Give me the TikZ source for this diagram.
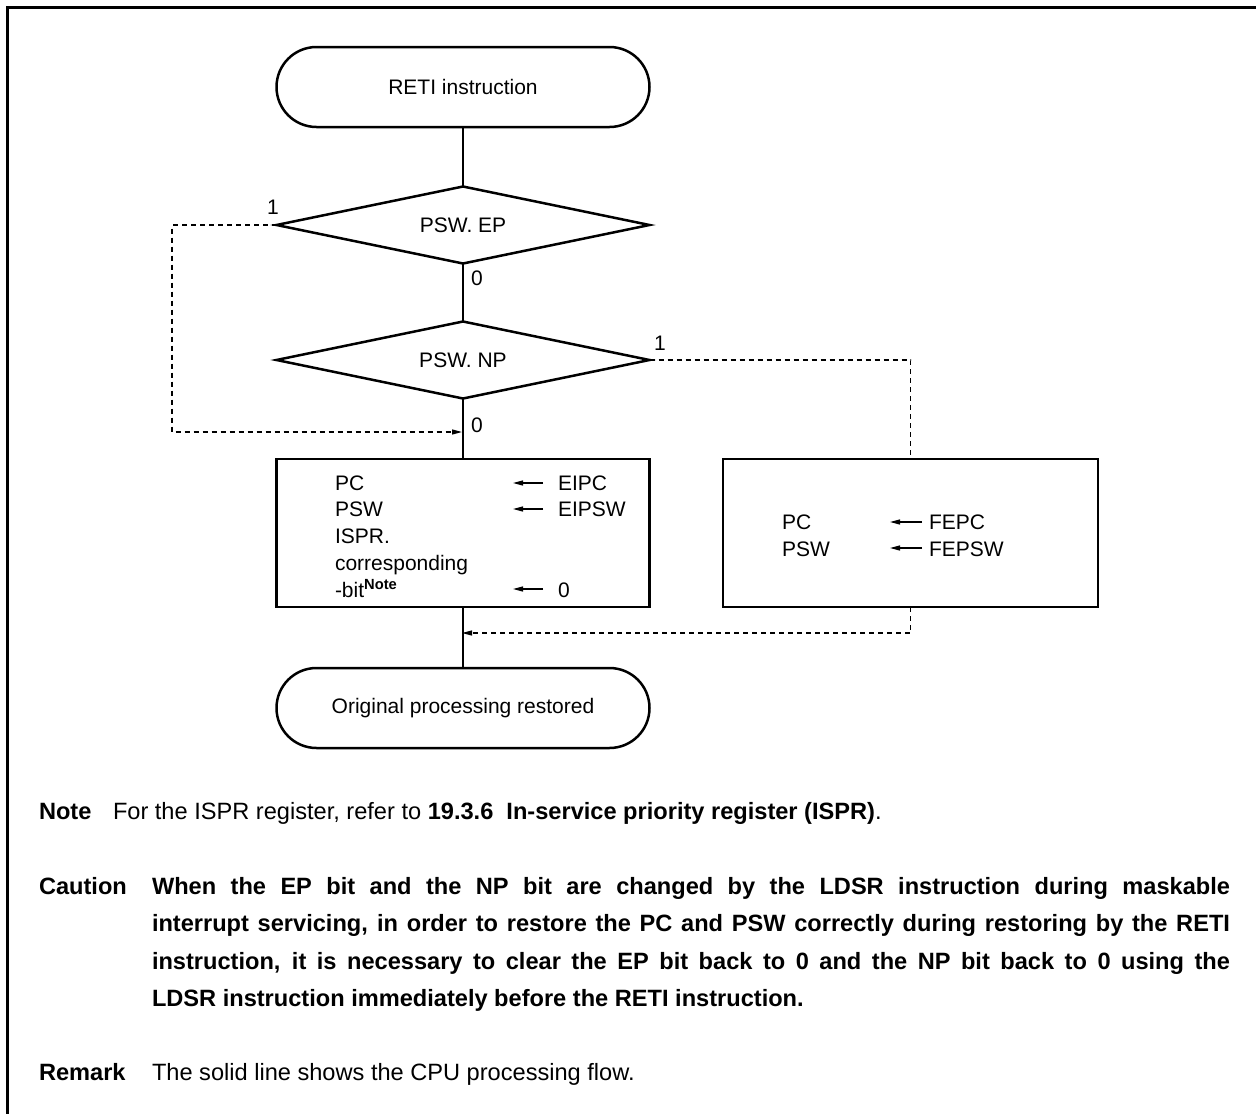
\documentclass[tikz,border=0pt]{standalone}
\usepackage{fontspec}
\setmainfont{Liberation Sans}
\usetikzlibrary{shapes.geometric,arrows.meta}
\begin{document}
\begin{tikzpicture}[x=1pt,y=-1pt,
  every node/.style={font=\fontsize{21}{25}\selectfont, inner sep=0pt, outer sep=0pt},
  term/.style={draw, line width=2.5pt, rounded corners=40pt, minimum width=373pt, minimum height=80pt},
  dec/.style={draw, diamond, aspect=4.9, line width=2.5pt, minimum width=373pt, minimum height=77pt},
  procbox/.style={draw, rectangle, line width=2.5pt, minimum height=148pt},
  flow/.style={line width=1.2pt},
  dflow/.style={line width=1.3pt, dash pattern=on 5pt off 4pt},
  tip/.style={-{Triangle[length=10pt,width=5pt]}},
  lbl/.style={anchor=base west},
  notes/.style={font=\fontsize{23.6}{37.5}\selectfont, anchor=base west},
]
\useasboundingbox (0,0) rectangle (1256,1114);
% frame
\draw[line width=3pt] (7,1114) -- (7,7) -- (1256,7);

% flowchart nodes
\node[term] (start) at (463,87) {RETI instruction};
\node[dec] (ep) at (463,225) {PSW. EP};
\node[dec] (np) at (463,360) {PSW. NP};
\node[procbox, minimum width=373pt] (b1) at (463,533) {};
\node[procbox, minimum width=375pt] (b2) at (910.5,533) {};
\node[term] (end) at (463,708) {Original processing restored};

% solid flow
\draw[flow] (start.south) -- (ep.north);
\draw[flow] (ep.south) -- (np.north);
\draw[flow] (np.south) -- (b1.north);
\draw[flow] (b1.south) -- (end.north);

% dashed flows
\coordinate (cL) at (172,432);
\coordinate (j1) at (462,432);
\draw[dflow,tip] (ep.west) -| (cL) -- (j1);
\draw[dflow] (np.east) -| (b2.north);
\coordinate (j2) at (462,633);
\draw[dflow,tip] (b2.south) |- (j2);

% branch labels
\node (l1) at (273,207) {1};
\node (l2) at (477,278) {0};
\node (l3) at (660,343) {1};
\node (l4) at (477,425) {0};

% left box contents
\node[lbl] (t1) at (335,490) {PC};
\node[lbl] (t2) at (335,516) {PSW};
\node[lbl] (t3) at (335,543) {ISPR.};
\node[lbl] (t4) at (335,570) {corresponding};
\node[lbl] (t5) at (335,597) {-bit\textsuperscript{\textbf{Note}}};
\node[lbl] (s1) at (558,490) {EIPC};
\node[lbl] (s2) at (558,516) {EIPSW};
\node[lbl] (s3) at (558,597) {0};
\coordinate (a1s) at (543,483); \coordinate (a1e) at (513,483);
\coordinate (a2s) at (543,509); \coordinate (a2e) at (513,509);
\coordinate (a3s) at (543,589); \coordinate (a3e) at (513,589);
\draw[flow,tip] (a1s) -- (a1e);
\draw[flow,tip] (a2s) -- (a2e);
\draw[flow,tip] (a3s) -- (a3e);

% right box contents
\node[lbl] (r1) at (782,529) {PC};
\node[lbl] (r2) at (782,556) {PSW};
\node[lbl] (f1) at (929,529) {FEPC};
\node[lbl] (f2) at (929,556) {FEPSW};
\coordinate (b1s) at (922,522); \coordinate (b1e) at (890,522);
\coordinate (b2s) at (922,548); \coordinate (b2e) at (890,548);
\draw[flow,tip] (b1s) -- (b1e);
\draw[flow,tip] (b2s) -- (b2e);

% notes
\node[notes] (noteh) at (39,819) {\textbf{Note}};
\node[notes] (notet) at (113,819) {For the ISPR register, refer to \textbf{19.3.6\ \ In-service priority register (ISPR)}.};
\node[notes] (cauh) at (39,894) {\textbf{Caution}};
\node[notes, text width=1078pt, align=justify] (caut) at (152,894) {\tolerance=10000\hbadness=10000\hyphenpenalty=10000\bfseries
When the EP bit and the NP bit are changed by the LDSR instruction during maskable\linebreak
interrupt servicing, in order to restore the PC and PSW correctly during restoring by the RETI\linebreak
instruction, it is necessary to clear the EP bit back to 0 and the NP bit back to 0 using the\linebreak
LDSR instruction immediately before the RETI instruction.};
\node[notes] (remh) at (39,1080) {\textbf{Remark}};
\node[notes] (remt) at (152,1080) {The solid line shows the CPU processing flow.};
\end{tikzpicture}
\end{document}
